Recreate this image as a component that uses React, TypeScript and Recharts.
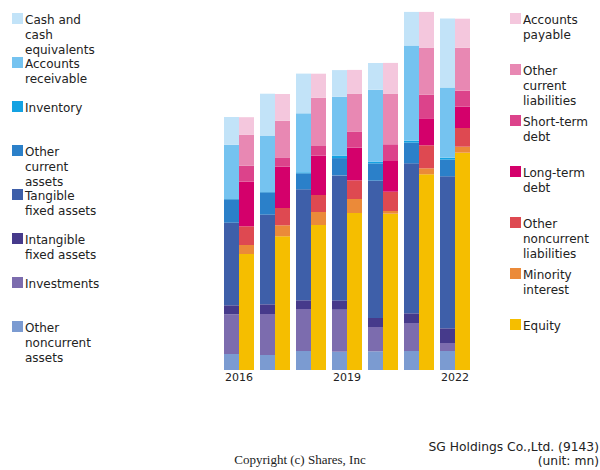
import React from "react";
import { BarChart, Bar, XAxis, YAxis } from "recharts";

const years = ["2016", "2017", "2018", "2019", "2020", "2021", "2022"];

// assets, bottom to top
const otherNoncurrentAssets = [16, 15, 19, 18.3, 18.7, 19, 19];
const investments = [39.7, 41, 42, 42, 24.3, 28, 8];
const intangibleAssets = [9, 9.7, 8.7, 9.3, 9, 9.7, 14.7];
const tangibleAssets = [82.7, 89.7, 111, 125, 137.3, 150, 152];
const otherCurrentAssets = [23.3, 22.3, 16, 17.3, 17.3, 20.7, 16.7];
const inventory = [0.3, 0.3, 1, 2.3, 1.7, 2, 2];
const receivable = [54.3, 56, 59, 59, 72, 95, 70];
const cash = [27.7, 42.3, 39.7, 26.7, 26.7, 33.7, 69];

// liabilities and equity, bottom to top
const equity = [116, 133.7, 145, 157, 156.3, 195.7, 217.3];
const minority = [9, 11, 13, 14, 2.7, 6, 6];
const otherNoncurrentLiab = [18.7, 17.3, 17, 18.7, 19.3, 23, 18.7];
const longTermDebt = [44.7, 41.3, 39.3, 32.7, 30.7, 27, 21.3];
const shortTermDebt = [16, 9.3, 9.7, 15.7, 16.7, 23.7, 16];
const otherCurrentLiab = [30.7, 36.7, 48.3, 38.3, 50.7, 47, 43];
const payable = [17.7, 26.7, 24, 23.7, 30.7, 35.7, 29];

const assetSeries = [
  { key: "onca", name: "Other\nnoncurrent\nassets", color: "#7b9bd1", values: otherNoncurrentAssets },
  { key: "inv", name: "Investments", color: "#7c6cae", values: investments },
  { key: "intg", name: "Intangible\nfixed assets", color: "#463a8b", values: intangibleAssets },
  { key: "tang", name: "Tangible\nfixed assets", color: "#3e5fa9", values: tangibleAssets },
  { key: "oca", name: "Other\ncurrent\nassets", color: "#2b80c9", values: otherCurrentAssets },
  { key: "stock", name: "Inventory", color: "#14a2e2", values: inventory },
  { key: "ar", name: "Accounts\nreceivable", color: "#75c3f0", values: receivable },
  { key: "cash", name: "Cash and\ncash\nequivalents", color: "#c2e3f8", values: cash },
];

const liabSeries = [
  { key: "eq", name: "Equity", color: "#f5be00", values: equity },
  { key: "mi", name: "Minority\ninterest", color: "#eb8a39", values: minority },
  { key: "oncl", name: "Other\nnoncurrent\nliabilities", color: "#de4951", values: otherNoncurrentLiab },
  { key: "ltd", name: "Long-term\ndebt", color: "#d4006b", values: longTermDebt },
  { key: "std", name: "Short-term\ndebt", color: "#dc438b", values: shortTermDebt },
  { key: "ocl", name: "Other\ncurrent\nliabilities", color: "#e888b3", values: otherCurrentLiab },
  { key: "ap", name: "Accounts\npayable", color: "#f4c7dd", values: payable },
];

const data = years.map((year, i) => {
  const row: Record<string, string | number> = { year };
  assetSeries.forEach((s) => (row[s.key] = s.values[i]));
  liabSeries.forEach((s) => (row[s.key] = s.values[i]));
  return row;
});

const font = "'DejaVu Sans', sans-serif";

function LegendBlock({ items, x, top, step }: { items: typeof assetSeries; x: number; top: number; step: number }) {
  return (
    <>
      {items.map((s, i) => (
        <div key={s.key} style={{ position: "absolute", left: x, top: top + i * step }}>
          <div style={{ position: "absolute", left: 0, top: 1, width: 11, height: 11, background: s.color }} />
          <div
            style={{
              position: "absolute",
              left: 13,
              top: 1,
              fontFamily: font,
              fontSize: 12,
              lineHeight: "15px",
              color: "#222",
              whiteSpace: "pre",
            }}
          >
            {s.name}
          </div>
        </div>
      ))}
    </>
  );
}

export default function App() {
  return (
    <div style={{ position: "absolute", left: 0, top: 0, width: 600, height: 470, background: "#fff" }}>
      <BarChart
        width={600}
        height={470}
        data={data}
        margin={{ top: 10, right: 127, bottom: 80, left: 221 }}
        barCategoryGap={3}
        barGap={0}
      >
        <XAxis
          dataKey="year"
          interval={2}
          axisLine={false}
          tickLine={false}
          tickSize={0}
          tickMargin={3}
          height={20}
          tick={{ fontFamily: font, fontSize: 11, fill: "#222" }}
        />
        <YAxis hide domain={[0, 360]} />
        {assetSeries.map((s) => (
          <Bar key={s.key} dataKey={s.key} stackId="assets" fill={s.color} isAnimationActive={false} />
        ))}
        {liabSeries.map((s) => (
          <Bar key={s.key} dataKey={s.key} stackId="liab" fill={s.color} isAnimationActive={false} />
        ))}
      </BarChart>
      <LegendBlock items={[...assetSeries].reverse()} x={12} top={12} step={44} />
      <LegendBlock items={[...liabSeries].reverse()} x={510} top={12} step={51} />
      <div
        style={{
          position: "absolute",
          right: 1,
          top: 440,
          textAlign: "right",
          fontFamily: font,
          fontSize: 12.3,
          lineHeight: "14px",
          color: "#222",
        }}
      >
        SG Holdings Co.,Ltd. (9143)
        <br />
        (unit: mn)
      </div>
      <div
        style={{
          position: "absolute",
          left: 0,
          width: 600,
          top: 452,
          textAlign: "center",
          fontFamily: "'Liberation Serif', serif",
          fontSize: 13,
          color: "#222",
        }}
      >
        Copyright (c) Shares, Inc
      </div>
    </div>
  );
}
